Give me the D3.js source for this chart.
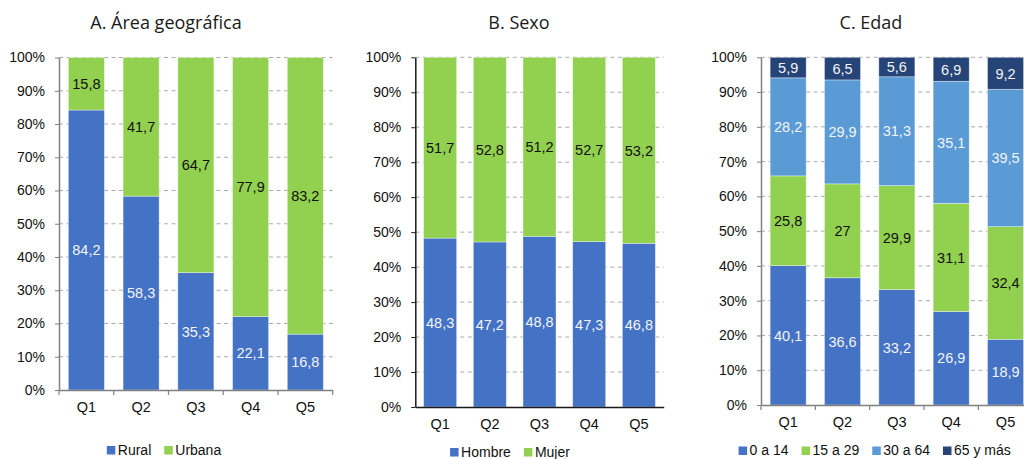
<!DOCTYPE html>
<html>
<head>
<meta charset="utf-8">
<script src="https://cdn.jsdelivr.net/npm/d3@7"></script>
<style>
  body { margin: 0; background: #fff; }
  svg { display: block; }
</style>
</head>
<body>
<svg id="chart" width="1024" height="459"></svg>
<script>
// Quintiles shown on every panel
const quintiles = ["Q1", "Q2", "Q3", "Q4", "Q5"];
const yTickValues = [0, 10, 20, 30, 40, 50, 60, 70, 80, 90, 100];
const yTickLabels = ["0%", "10%", "20%", "30%", "40%", "50%", "60%", "70%", "80%", "90%", "100%"];

// A. Área geográfica
const areaSeries = ["Rural", "Urbana"];
const rural  = [84.2, 58.3, 35.3, 22.1, 16.8];
const urbana = [15.8, 41.7, 64.7, 77.9, 83.2];

// B. Sexo
const sexoSeries = ["Hombre", "Mujer"];
const hombre = [48.3, 47.2, 48.8, 47.3, 46.8];
const mujer  = [51.7, 52.8, 51.2, 52.7, 53.2];

// C. Edad
const edadSeries = ["0 a 14", "15 a 29", "30 a 64", "65 y más"];
const edad0a14  = [40.1, 36.6, 33.2, 26.9, 18.9];
const edad15a29 = [25.8, 27, 29.9, 31.1, 32.4];
const edad30a64 = [28.2, 29.9, 31.3, 35.1, 39.5];
const edad65mas = [5.9, 6.5, 5.6, 6.9, 9.2];

const BLUE = "#4472C4", GREEN = "#92D050", LIGHTBLUE = "#5B9BD5", NAVY = "#264478";
const LABEL_FONT = "'Liberation Sans', Arial, sans-serif";

const svg = d3.select("#chart");

function table(keys, columns) {
  return quintiles.map((q, i) => {
    const row = { q };
    keys.forEach((k, j) => { row[k] = columns[j][i]; });
    return row;
  });
}

const fmt = v => String(v).replace(".", ",");

function drawPanel(cfg) {
  const g = svg.append("g");

  const x = d3.scaleBand()
    .domain(quintiles)
    .range([cfg.left, cfg.right])
    .paddingInner(cfg.pad)
    .paddingOuter(cfg.pad / 2);

  const y = d3.scaleLinear().domain([0, 100]).range([cfg.bottom, cfg.top]);

  // dashed gridlines
  g.append("g")
    .selectAll("line")
    .data(yTickValues.filter(v => v > 0))
    .join("line")
    .attr("x1", cfg.left)
    .attr("x2", cfg.right)
    .attr("y1", d => y(d))
    .attr("y2", d => y(d))
    .attr("stroke", "#ababab")
    .attr("stroke-width", 1)
    .attr("stroke-dasharray", "4,3.5");

  // stacked bars
  const data = table(cfg.keys, cfg.columns);
  const stacked = d3.stack().keys(cfg.keys)(data);

  const layers = g.append("g")
    .selectAll("g")
    .data(stacked)
    .join("g")
    .attr("fill", (d, i) => cfg.colors[i]);

  layers.selectAll("rect")
    .data(d => d)
    .join("rect")
    .attr("x", d => x(d.data.q))
    .attr("width", x.bandwidth())
    .attr("y", d => y(d[1]))
    .attr("height", d => y(d[0]) - y(d[1]))
    .attr("stroke", "rgba(255,255,255,0.45)")
    .attr("stroke-width", 0.8);

  // value labels centred in each segment
  g.append("g")
    .selectAll("g")
    .data(stacked)
    .join("g")
    .attr("fill", (d, i) => cfg.labelColors[i])
    .selectAll("text")
    .data(d => d.map(p => ({ p, key: d.key })))
    .join("text")
    .attr("x", d => x(d.p.data.q) + x.bandwidth() / 2)
    .attr("y", d => y((d.p[0] + d.p[1]) / 2))
    .attr("dy", "0.36em")
    .attr("text-anchor", "middle")
    .style("font-family", LABEL_FONT)
    .style("font-size", "14.5px")
    .text(d => fmt(d.p.data[d.key]));

  // y axis
  const yAxis = g.append("g")
    .attr("transform", `translate(${cfg.left},0)`)
    .call(d3.axisLeft(y)
      .tickValues(yTickValues)
      .tickFormat((d, i) => yTickLabels[i])
      .tickSize(4)
      .tickPadding(10)
      .tickSizeOuter(0));
  yAxis.select(".domain").attr("stroke", cfg.axisColor).attr("stroke-width", 1.5);
  yAxis.selectAll(".tick line").attr("stroke", cfg.axisColor);
  yAxis.selectAll("text")
    .attr("fill", "#111")
    .style("font-family", LABEL_FONT)
    .style("font-size", "14px");

  // x axis
  const xAxis = g.append("g")
    .attr("transform", `translate(0,${cfg.bottom})`)
    .call(d3.axisBottom(x).tickSize(0).tickPadding(12).tickSizeOuter(0));
  xAxis.select(".domain").attr("stroke", cfg.axisColor).attr("stroke-width", 1.5);
  xAxis.selectAll("text")
    .attr("fill", "#111")
    .style("font-family", LABEL_FONT)
    .style("font-size", "14.5px");

  if (cfg.xTicks) {
    const step = x.step();
    xAxis.append("g")
      .selectAll("line")
      .data(d3.range(quintiles.length + 1))
      .join("line")
      .attr("x1", i => cfg.left + i * step)
      .attr("x2", i => cfg.left + i * step)
      .attr("y1", 0)
      .attr("y2", 5)
      .attr("stroke", cfg.axisColor)
      .attr("stroke-width", 1.2);
  }

  // title
  g.append("text")
    .attr("x", cfg.titleX)
    .attr("y", 29)
    .attr("text-anchor", "middle")
    .attr("fill", "#1a1a1a")
    .style("font-family", "'Open Sans', 'Noto Sans', sans-serif")
    .style("font-size", "18px")
    .text(cfg.title);

  // legend
  const legend = g.append("g");
  const items = legend.selectAll("g")
    .data(cfg.keys)
    .join("g");
  items.append("rect")
    .attr("width", 8.5)
    .attr("height", 8.5)
    .attr("y", cfg.legendBaseline - 8.5)
    .attr("fill", (d, i) => cfg.colors[i]);
  items.append("text")
    .attr("x", 11)
    .attr("y", cfg.legendBaseline)
    .attr("fill", "#111")
    .style("font-family", LABEL_FONT)
    .style("font-size", "14px")
    .text(d => d);

  let offset = 0;
  const widths = [];
  items.each(function () {
    const w = 11 + d3.select(this).select("text").node().getComputedTextLength();
    widths.push(w);
  });
  const gap = 13;
  const total = d3.sum(widths) + gap * (widths.length - 1);
  let start = cfg.legendCX - total / 2;
  items.attr("transform", (d, i) => {
    const tx = start + offset;
    offset += widths[i] + gap;
    return `translate(${tx},0)`;
  });
}

drawPanel({
  title: "A. Área geográfica",
  titleX: 166,
  keys: areaSeries,
  columns: [rural, urbana],
  colors: [BLUE, GREEN],
  labelColors: ["#f4f4f4", "#111"],
  left: 59, right: 332.7, top: 57.5, bottom: 390,
  pad: 0.342,
  axisColor: "#808080",
  xTicks: true,
  legendCX: 164, legendBaseline: 454.5
});

drawPanel({
  title: "B. Sexo",
  titleX: 519,
  keys: sexoSeries,
  columns: [hombre, mujer],
  colors: [BLUE, GREEN],
  labelColors: ["#f4f4f4", "#111"],
  left: 415.3, right: 663.7, top: 57.3, bottom: 407,
  pad: 0.336,
  axisColor: "#1a1a1a",
  xTicks: false,
  legendCX: 510, legendBaseline: 456.5
});

drawPanel({
  title: "C. Edad",
  titleX: 871,
  keys: edadSeries,
  columns: [edad0a14, edad15a29, edad30a64, edad65mas],
  colors: [BLUE, GREEN, LIGHTBLUE, NAVY],
  labelColors: ["#f4f4f4", "#111", "#f4f4f4", "#f4f4f4"],
  left: 761, right: 1032.7, top: 57.3, bottom: 405,
  pad: 0.337,
  axisColor: "#808080",
  xTicks: true,
  legendCX: 874.7, legendBaseline: 455
});
</script>
</body>
</html>
